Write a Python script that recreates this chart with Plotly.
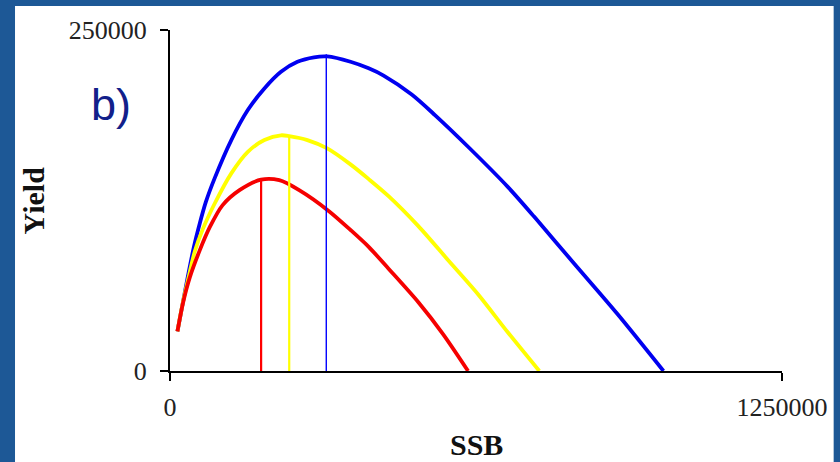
import plotly.graph_objects as go

# ---- data ----
red_ssb = [15200, 26400, 40600, 60900, 81200, 107500, 142000, 186100, 223200, 263800,
           324700, 369300, 405800, 446400, 507300, 558000, 608800]
red_yield = [29100, 49700, 68800, 88600, 105400, 121600, 132600, 140300, 139900, 132600,
             117200, 103200, 91000, 75000, 50400, 26900, 0]

yellow_ssb = [15200, 26400, 37500, 50700, 67000, 91300, 125200, 158900, 192800, 226700, 243500,
              280600, 321200, 369300, 405800, 446400, 507300, 568200, 629100, 689900, 754300]
yellow_yield = [29100, 50400, 68000, 87800, 104000, 122800, 144900, 160700, 169300, 172800, 172200,
                169300, 163200, 151300, 140700, 128200, 106200, 81200, 56300, 28400, 0]

blue_ssb = [15200, 26400, 36500, 48700, 60900, 73100, 91300, 125200, 158900, 192800, 226700,
            260300, 294200, 321200, 368700, 405800, 436300, 493700, 541200, 608800, 689900,
            744100, 825300, 913100, 1007900]
blue_yield = [29100, 50400, 69300, 90800, 108400, 123800, 141400, 169300, 191300, 207200, 219400,
              226700, 230000, 230600, 226700, 221900, 216600, 202700, 187600, 164400, 135000,
              113000, 78800, 42100, 0]

msy_ssb = [186100, 243500, 319200]
msy_yield = [140400, 172500, 232200]
msy_colors = ["#ff0000", "#ffff00", "#0000ff"]
msy_widths = [2.2, 2.2, 1.4]

x_ticks = [0, 1250000]
y_ticks = [0, 250000]
x_title = "SSB"
y_title = "Yield"
panel_label = "b)"

fig = go.Figure()

for xs, ys, col in [(blue_ssb, blue_yield, "#0000f0"),
                    (yellow_ssb, yellow_yield, "#ffff00"),
                    (red_ssb, red_yield, "#f50000")]:
    fig.add_trace(go.Scatter(x=xs, y=ys, mode="lines",
                             line=dict(color=col, width=3.8, shape="spline", smoothing=0.8),
                             cliponaxis=False, hoverinfo="skip", showlegend=False))

for mx, my, col, w in zip(msy_ssb, msy_yield, msy_colors, msy_widths):
    fig.add_trace(go.Scatter(x=[mx, mx], y=[0, my], mode="lines",
                             line=dict(color=col, width=w),
                             cliponaxis=False, hoverinfo="skip", showlegend=False))

serif = "Liberation Serif, Times New Roman, serif"

fig.update_layout(
    width=840, height=462,
    margin=dict(l=170, r=54, t=30, b=91),
    paper_bgcolor="#1d5896",
    plot_bgcolor="white",
    showlegend=False,
    shapes=[dict(type="rect", xref="paper", yref="paper", layer="below",
                 x0=-156 / 616, x1=668 / 616, y0=-95 / 341, y1=365 / 341,
                 fillcolor="white", line=dict(width=0))],
    annotations=[
        dict(text=panel_label, xref="paper", yref="paper", x=-82 / 616, y=(370.7 - 104) / 341,
             xanchor="left", yanchor="middle", showarrow=False,
             font=dict(family="Liberation Sans, Arial, sans-serif", size=45, color="#12208a")),
        dict(text="<b>" + y_title + "</b>", xref="paper", yref="paper",
             x=-137 / 616, y=0.5, textangle=-90, xanchor="center", yanchor="middle",
             showarrow=False, font=dict(family=serif, size=30, color="#111")),
        dict(text="<b>" + x_title + "</b>", xref="paper", yref="paper",
             x=0.5, y=-73 / 341, xanchor="center", yanchor="middle",
             showarrow=False, font=dict(family=serif, size=30, color="#111")),
    ],
)

fig.update_xaxes(range=[0, 1250000], tickvals=x_ticks, ticktext=[str(v) for v in x_ticks],
                 showgrid=False, zeroline=False, showline=True, linecolor="black", linewidth=2,
                 ticks="outside", ticklen=8, tickwidth=2, tickcolor="black",
                 tickfont=dict(family=serif, size=26, color="#222"), ticklabelstandoff=4)
fig.update_yaxes(range=[0, 250000], tickvals=y_ticks, ticktext=[str(v) for v in y_ticks],
                 showgrid=False, zeroline=False, showline=True, linecolor="black", linewidth=2,
                 ticks="outside", ticklen=8, tickwidth=2, tickcolor="black",
                 tickfont=dict(family=serif, size=26, color="#222"), ticklabelstandoff=8)

fig.write_html("out.html", config={"displayModeBar": False},
               post_script="document.body.style.margin='0';document.body.style.overflow='hidden';")
